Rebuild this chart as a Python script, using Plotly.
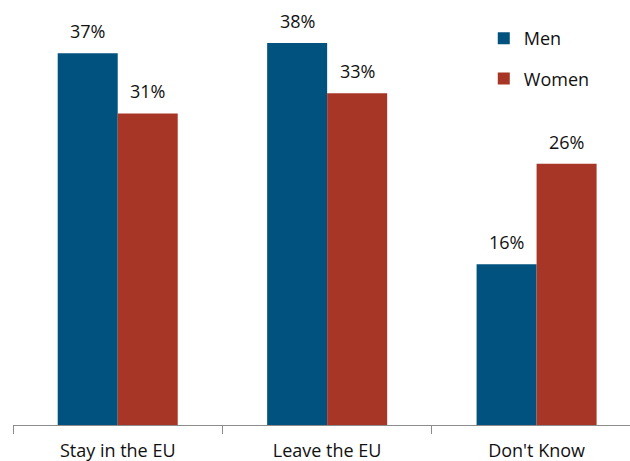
import plotly.graph_objects as go

categories = ["Stay in the EU", "Leave the EU", "Don't Know"]
men = [37, 38, 16]
women = [31, 33, 26]
series_names = ["Men", "Women"]
colors = ["#01527F", "#A73626"]

FONT = "Open Sans, Liberation Sans, sans-serif"

fig = go.Figure()
for name, vals, col in zip(series_names, [men, women], colors):
    fig.add_trace(go.Bar(
        x=categories, y=vals, name=name, marker_color=col,
        marker_line_width=0, legendgroup=name,
    ))

annotations = []
for vals, shift in [(men, -30), (women, 30)]:
    for c, v in zip(categories, vals):
        annotations.append(dict(
            x=c, y=v, text=f"{v}%", showarrow=False, xref="x", yref="y",
            xshift=shift, yshift=22, yanchor="middle",
            font=dict(family=FONT, size=18, color="#111111"),
        ))

fig.update_layout(
    width=630, height=461,
    margin=dict(l=13, r=0, t=0, b=36),
    paper_bgcolor="white", plot_bgcolor="white",
    barmode="group", bargap=0.427, bargroupgap=0,
    font=dict(family=FONT, size=18, color="#111111"),
    annotations=annotations,
    legend=dict(
        x=0.763, y=0.953, xanchor="left", yanchor="top",
        font=dict(family=FONT, size=18, color="#111111"),
        tracegroupgap=14, itemwidth=30, bgcolor="rgba(0,0,0,0)",
    ),
    xaxis=dict(
        type="category", range=[-0.5, 2.446], automargin=False,
        showline=True, linecolor="#8c8c8c", linewidth=1,
        ticks="outside", tickson="boundaries", ticklen=8, tickcolor="#8c8c8c",
        showgrid=False, ticklabelstandoff=9,
        tickfont=dict(family=FONT, size=18, color="#111111"),
    ),
    yaxis=dict(range=[0, 42.29], visible=False, showgrid=False),
)

fig.write_html("out.html")
